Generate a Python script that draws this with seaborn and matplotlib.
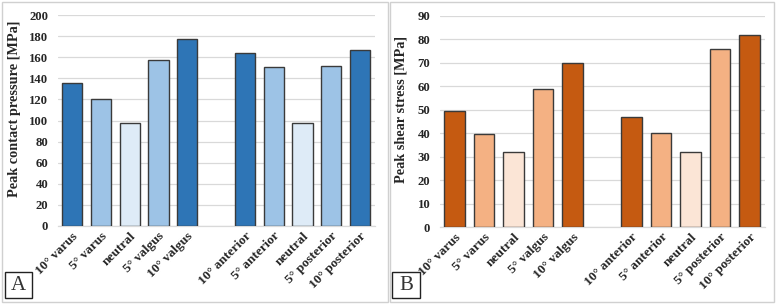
import matplotlib
matplotlib.use("Agg")
import matplotlib.pyplot as plt
from matplotlib.patches import Rectangle
import seaborn as sns
import pandas as pd

# ---- data ----
vv_labels = ["10° varus", "5° varus", "neutral", "5° valgus", "10° valgus"]
ap_labels = ["10° anterior", "5° anterior", "neutral", "5° posterior", "10° posterior"]
vv_shades = ["dark", "mid", "light", "mid", "dark"]
ap_shades = ["dark", "mid", "light", "mid", "dark"]

pressure_vv = [136, 120, 98, 157, 177]
pressure_ap = [164, 151, 98, 152, 167]
shear_vv = [49.5, 39.5, 32, 59, 70]
shear_ap = [47, 40, 32, 76, 82]

blues = {"dark": "#2E75B6", "mid": "#9DC3E6", "light": "#DEEBF7"}
oranges = {"dark": "#C55A11", "mid": "#F4B183", "light": "#FBE5D6"}

sns.set_theme(style="white")
plt.rcParams["font.family"] = ["Liberation Serif", "DejaVu Serif"]

W, H = 777, 305
fig = plt.figure(figsize=(W / 100, H / 100), dpi=100)


def build_df(vv_vals, ap_vals):
    keys, vals, shades = [], [], []
    for lab, v, s in zip(vv_labels, vv_vals, vv_shades):
        keys.append("VV " + lab); vals.append(v); shades.append(s)
    for lab, v, s in zip(ap_labels, ap_vals, ap_shades):
        keys.append("AP " + lab); vals.append(v); shades.append(s)
    order = ["VV " + l for l in vv_labels] + ["gap"] + ["AP " + l for l in ap_labels]
    return pd.DataFrame({"key": keys, "value": vals, "shade": shades}), order


def panel(rect_px, frame_px, vv_vals, ap_vals, pal, ymax, ystep, ylabel, label_x,
          letter, box_px):
    l, r, b, t = rect_px
    ax = fig.add_axes([l / W, 1 - b / H, (r - l) / W, (b - t) / H])
    df, order = build_df(vv_vals, ap_vals)
    sns.barplot(data=df, x="key", y="value", hue="shade", order=order,
                palette=pal, dodge=False, width=0.7, legend=False, saturation=1,
                edgecolor="#3A3A3A", linewidth=1.0, ax=ax, zorder=3)
    ax.set_xlim(-0.49, 10.52)
    ax.set_ylim(0, ymax)
    ax.set_yticks(range(0, ymax + 1, ystep))
    ax.yaxis.grid(True, color="#D9D9D9", linewidth=0.9, zorder=0)
    ax.set_axisbelow(True)
    for s in ["top", "right", "left"]:
        ax.spines[s].set_visible(False)
    ax.spines["bottom"].set_color("#D9D9D9")
    ax.spines["bottom"].set_linewidth(0.9)
    ax.set_xticks(range(11))
    ax.set_xticklabels(vv_labels + [""] + ap_labels, rotation=45, ha="right",
                       rotation_mode="anchor", fontsize=9.6, fontweight="bold",
                       color="#262626")
    ax.tick_params(axis="x", length=0, pad=3)
    ax.tick_params(axis="y", length=0, pad=7, labelsize=9.2, labelcolor="#262626")
    for lbl in ax.get_yticklabels():
        lbl.set_fontweight("bold")
    ax.set_xlabel("")
    ax.set_ylabel(ylabel, fontsize=10.3, fontweight="bold", color="#262626")
    ax.yaxis.set_label_coords(label_x, 0.555)
    # panel frame
    fx0, fy0, fx1, fy1 = frame_px
    fig.add_artist(Rectangle((fx0 / W, 1 - fy1 / H), (fx1 - fx0) / W, (fy1 - fy0) / H,
                             transform=fig.transFigure, fill=False,
                             edgecolor="#D0D0D0", linewidth=1.0))
    bx0, by0, bx1, by1 = box_px
    fig.add_artist(Rectangle((bx0 / W, 1 - by1 / H), (bx1 - bx0) / W, (by1 - by0) / H,
                             transform=fig.transFigure, fill=False,
                             edgecolor="#222222", linewidth=1.0))
    fig.text((bx0 + bx1) / 2 / W, 1 - (by0 + by1) / 2 / H, letter, fontsize=15,
             ha="center", va="center", color="#333333")
    return ax


panel((58, 375, 226, 15), (2, 2, 388, 302), pressure_vv, pressure_ap, blues,
      200, 20, "Peak contact pressure [MPa]", -0.117, "A", (5, 272, 32, 298))
panel((440, 765, 227, 16), (390, 2, 774, 302), shear_vv, shear_ap, oranges,
      90, 10, "Peak shear stress [MPa]", -0.10, "B", (392, 272, 420, 298))

fig.savefig("out.png", dpi=100)
